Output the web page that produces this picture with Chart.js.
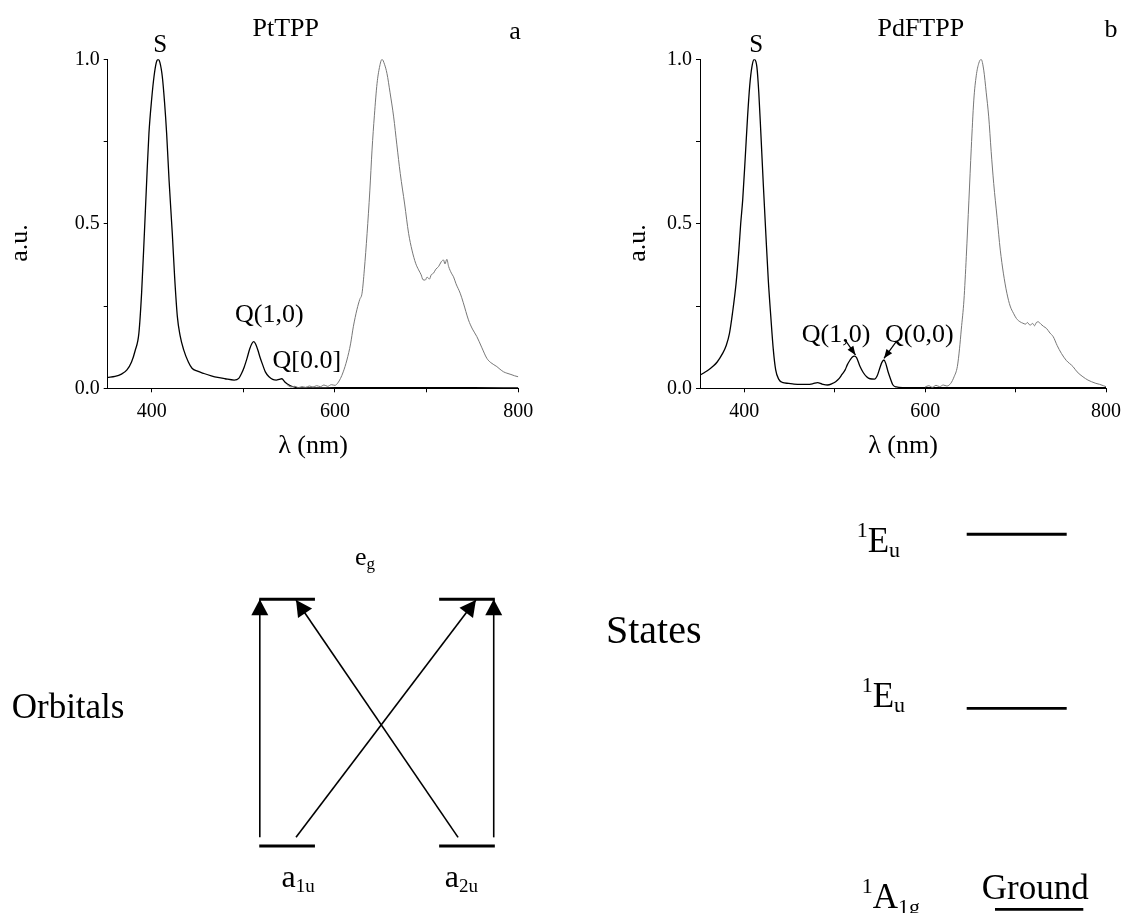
<!DOCTYPE html>
<html>
<head>
<meta charset="utf-8">
<title>PtTPP / PdFTPP spectra and four-orbital scheme</title>
<script src="https://cdn.jsdelivr.net/npm/chart.js@4.4.1/dist/chart.umd.min.js"></script>
<style>
  body { margin: 0; background: #fff; }
  #page { position: relative; width: 1128px; height: 913px; }
  canvas { position: absolute; }
</style>
</head>
<body>
<div id="page">
  <canvas id="ptChart" width="560" height="470" style="left:0;top:0"></canvas>
  <canvas id="pdChart" width="568" height="470" style="left:560px;top:0"></canvas>
  <canvas id="orbChart" width="560" height="443" style="left:0;top:470px"></canvas>
  <canvas id="stateChart" width="568" height="443" style="left:560px;top:470px"></canvas>
</div>
<script>
'use strict';

// ---- spectra data (wavelength in nm, normalised intensity) ----
let ptAbsWave = [352, 360, 367, 373, 378, 382, 386, 389, 392, 395, 397, 400, 402.5, 405, 407, 409, 411.6, 414, 416.3, 419, 422.5, 425, 428, 431, 435, 440, 444, 450, 457, 465, 472, 480, 490, 495, 498, 501, 504, 507, 509.5, 511.5, 513.5, 516, 518, 521, 524, 528, 532, 536, 539, 542, 545, 548, 552, 557, 565, 580, 600, 650, 700, 750, 800];
let ptAbsVal = [0.033, 0.036, 0.043, 0.056, 0.08, 0.115, 0.167, 0.29, 0.47, 0.66, 0.775, 0.88, 0.947, 0.99, 1.0, 0.99, 0.947, 0.87, 0.775, 0.63, 0.47, 0.34, 0.218, 0.16, 0.116, 0.08, 0.061, 0.052, 0.045, 0.038, 0.033, 0.029, 0.025, 0.03, 0.045, 0.065, 0.091, 0.12, 0.137, 0.142, 0.134, 0.115, 0.096, 0.072, 0.05, 0.035, 0.027, 0.025, 0.027, 0.029, 0.02, 0.013, 0.007, 0.003, 0.001, 0.001, 0.002, 0.002, 0.002, 0.002, 0.001];

let ptEmWave = [548, 552, 556, 560, 564, 568, 572, 576, 580, 584, 588, 592, 596, 600, 603, 606, 609, 613, 617, 620, 624, 627, 629.5, 632, 635, 638, 640.4, 643, 645.9, 648.5, 651.3, 654, 656.7, 660, 664, 667.5, 671.2, 676, 680.3, 684, 688, 691.2, 694, 696, 698.5, 700.5, 703, 705, 707.5, 710, 713, 716, 718.4, 720, 722, 724, 727, 729.3, 732, 736.6, 740, 745.6, 750, 754.8, 760, 765.7, 770, 776.6, 780, 784, 787.5, 792, 796, 800];
let ptEmVal = [0.01, 0.004, 0.006, 0.002, 0.005, 0.003, 0.007, 0.004, 0.008, 0.005, 0.01, 0.006, 0.011, 0.009, 0.016, 0.03, 0.05, 0.086, 0.135, 0.187, 0.24, 0.27, 0.289, 0.36, 0.47, 0.6, 0.724, 0.83, 0.927, 0.975, 1.0, 0.985, 0.957, 0.9, 0.825, 0.74, 0.653, 0.56, 0.471, 0.42, 0.38, 0.36, 0.345, 0.33, 0.329, 0.338, 0.332, 0.345, 0.35, 0.362, 0.37, 0.385, 0.39, 0.378, 0.392, 0.37, 0.35, 0.339, 0.318, 0.289, 0.26, 0.208, 0.18, 0.157, 0.125, 0.091, 0.078, 0.066, 0.058, 0.05, 0.046, 0.042, 0.038, 0.035];

let pdAbsWave = [351, 356, 361, 365, 370, 376, 380, 383.6, 387, 390.9, 394, 396, 398.2, 401, 403.6, 406, 408.4, 411, 413.9, 416, 418.3, 421, 423.8, 426.5, 429.3, 432, 434.7, 438, 442, 449, 455, 462, 470, 476, 481, 486, 492, 497, 501, 505, 508, 511.5, 514, 517, 519.5, 521.6, 524, 528, 531.5, 535.3, 539, 544, 547, 549.8, 552, 554.5, 556.5, 558.9, 561.5, 564.4, 568, 575, 600, 650, 700, 750, 800];
let pdAbsVal = [0.04, 0.048, 0.057, 0.066, 0.08, 0.106, 0.13, 0.167, 0.23, 0.319, 0.42, 0.5, 0.572, 0.7, 0.825, 0.92, 0.977, 1.0, 0.977, 0.9, 0.775, 0.62, 0.47, 0.33, 0.218, 0.12, 0.056, 0.028, 0.018, 0.015, 0.013, 0.012, 0.012, 0.014, 0.017, 0.013, 0.01, 0.014, 0.02, 0.03, 0.042, 0.056, 0.072, 0.086, 0.095, 0.098, 0.094, 0.066, 0.048, 0.035, 0.029, 0.028, 0.038, 0.061, 0.078, 0.086, 0.075, 0.051, 0.03, 0.01, 0.004, 0.002, 0.002, 0.002, 0.002, 0.002, 0.002];

let pdEmWave = [600, 604, 608, 612, 616, 620, 624, 628.3, 632, 635.6, 638, 640, 642.9, 645.5, 648.4, 651, 653.8, 656.5, 659.3, 661.9, 664.8, 667.5, 670.3, 673, 675.8, 679.5, 683.1, 686.5, 690.4, 694, 697.7, 701, 705, 708, 711, 713, 716, 719, 721, 723, 725.1, 728, 731, 734.2, 738, 741.6, 746, 750.7, 756, 763.5, 768, 774.5, 780, 784, 788.8, 793, 797, 800];
let pdEmVal = [0.004, 0.008, 0.003, 0.009, 0.005, 0.01, 0.007, 0.015, 0.035, 0.066, 0.12, 0.18, 0.268, 0.4, 0.572, 0.73, 0.876, 0.95, 0.988, 1.0, 0.967, 0.9, 0.825, 0.72, 0.623, 0.52, 0.42, 0.35, 0.289, 0.25, 0.228, 0.212, 0.202, 0.198, 0.195, 0.2, 0.192, 0.197, 0.19, 0.2, 0.202, 0.195, 0.188, 0.182, 0.168, 0.157, 0.13, 0.106, 0.085, 0.066, 0.05, 0.035, 0.025, 0.02, 0.015, 0.012, 0.008, 0.005];

// axis ticks
let xTicks = [400, 500, 600, 700, 800];
let xLabelTicks = [400, 600, 800];
let yTicks = [0, 0.25, 0.5, 0.75, 1.0];
let yLabelTicks = [0, 0.5, 1.0];

// band labels
let ptBandNames = ['S', 'Q(1,0)', 'Q[0.0]'];
let pdBandNames = ['S', 'Q(1,0)', 'Q(0,0)'];

// pointer arrows in the PdFTPP panel: [from nm, from a.u., to nm, to a.u.]
let pdPointers = [[511.5, 0.147, 523, 0.101], [568, 0.142, 554.5, 0.091]];

// ---- four-orbital scheme (x in level widths, y in orbital energy) ----
let orbitalSpanX = [[0, 1], [3.23, 4.23], [0, 1], [3.23, 4.23]];
let orbitalEnergy = [0, 0, 1, 1];
let transitionFrom = [[0.01, 0.035], [0.66, 0.035], [3.57, 0.035], [4.21, 0.035]];
let transitionTo = [[0.01, 1.0], [3.89, 0.997], [0.66, 0.997], [4.21, 1.0]];

// states (x in level widths, y in relative energy)
let stateSpanX = [[0.283, 1.166], [0, 1], [0, 1]];
let stateEnergy = [0, 1.0, 1.866];

const SERIF = "'Liberation Serif', 'Times New Roman', serif";
Chart.defaults.font.family = SERIF;
Chart.defaults.color = '#000';

function toPoints(xs, ys) {
  return xs.map((x, i) => ({ x: x, y: ys[i] }));
}

// draws text made of normal, superscript and subscript pieces
function drawRich(ctx, parts, x, y, size, smallSize, align) {
  let widths = parts.map(p => {
    ctx.font = `${p.sub || p.sup ? smallSize : size}px ${SERIF}`;
    return ctx.measureText(p.t).width;
  });
  let total = widths.reduce((a, b) => a + b, 0);
  let cx = align === 'center' ? x - total / 2 : x;
  ctx.textAlign = 'left';
  parts.forEach((p, i) => {
    ctx.font = `${p.sub || p.sup ? smallSize : size}px ${SERIF}`;
    let dy = p.sup ? -size * 0.43 : (p.sub ? size * 0.15 : 0);
    ctx.fillText(p.t, cx, y + dy);
    cx += widths[i];
  });
}

// text labels, placed either in data units or in canvas pixels
const textLabels = {
  id: 'textLabels',
  afterDraw(chart, args, opts) {
    let ctx = chart.ctx;
    let xs = chart.scales.x;
    let ys = chart.scales.y;
    ctx.save();
    ctx.fillStyle = '#000';
    ctx.textBaseline = 'alphabetic';
    (opts.items || []).forEach(item => {
      let px = item.px !== undefined ? item.px : xs.getPixelForValue(item.x);
      let py = item.py !== undefined ? item.py : ys.getPixelForValue(item.y);
      if (item.rotate) {
        ctx.save();
        ctx.translate(px, py);
        ctx.rotate(-Math.PI / 2);
        ctx.font = `${item.size}px ${SERIF}`;
        ctx.textAlign = 'center';
        ctx.textBaseline = 'middle';
        ctx.fillText(item.text, 0, 0);
        ctx.restore();
      } else if (item.parts) {
        drawRich(ctx, item.parts, px, py, item.size, item.small, item.align || 'left');
      } else {
        ctx.font = `${item.size}px ${SERIF}`;
        ctx.textAlign = item.align || 'center';
        ctx.fillText(item.text, px, py);
      }
    });
    ctx.restore();
  }
};

// filled arrow heads at the last point of datasets flagged with arrowHead
const arrowHeads = {
  id: 'arrowHeads',
  afterDatasetsDraw(chart) {
    let ctx = chart.ctx;
    chart.data.datasets.forEach((ds, i) => {
      if (!ds.arrowHead) return;
      let pts = chart.getDatasetMeta(i).data;
      let tip = pts[pts.length - 1];
      let tail = pts[pts.length - 2];
      let ang = Math.atan2(tip.y - tail.y, tip.x - tail.x);
      let len = ds.arrowHead[0];
      let half = ds.arrowHead[1];
      ctx.save();
      ctx.translate(tip.x, tip.y);
      ctx.rotate(ang);
      ctx.beginPath();
      ctx.moveTo(0, 0);
      ctx.lineTo(-len, -half);
      ctx.lineTo(-len, half);
      ctx.closePath();
      ctx.fillStyle = ds.borderColor;
      ctx.fill();
      ctx.restore();
    });
  }
};

function spectrumChart(canvasId, cfg) {
  let datasets = [
    {
      data: toPoints(cfg.emWave, cfg.emVal),
      borderColor: '#777',
      borderWidth: 1,
      pointRadius: 0,
      cubicInterpolationMode: 'monotone'
    },
    {
      data: toPoints(cfg.absWave, cfg.absVal),
      borderColor: '#000',
      borderWidth: 1.3,
      pointRadius: 0,
      cubicInterpolationMode: 'monotone'
    }
  ];
  (cfg.pointers || []).forEach(p => {
    datasets.push({
      data: [{ x: p[0], y: p[1] }, { x: p[2], y: p[3] }],
      borderColor: '#000',
      borderWidth: 1.2,
      pointRadius: 0,
      arrowHead: [9, 3.5]
    });
  });

  let ctx = document.getElementById(canvasId).getContext('2d');
  return new Chart(ctx, { //eslint-disable-line
    type: 'line',
    data: { datasets: datasets },
    plugins: [arrowHeads, textLabels],
    options: {
      responsive: false,
      animation: false,
      devicePixelRatio: 1,
      events: [],
      layout: { padding: cfg.padding },
      plugins: {
        legend: { display: false },
        tooltip: { enabled: false },
        textLabels: { items: cfg.labels }
      },
      scales: {
        x: {
          type: 'linear',
          min: cfg.xMin,
          max: 800,
          afterBuildTicks: scale => { scale.ticks = xTicks.map(v => ({ value: v })); },
          afterFit: scale => { scale.height = 75; },
          ticks: {
            autoSkip: false,
            maxRotation: 0,
            padding: 7,
            font: { size: 20 },
            color: '#000',
            callback: v => (xLabelTicks.includes(v) ? String(v) : '')
          },
          grid: { display: true, drawOnChartArea: false, drawTicks: true, tickLength: 4, tickColor: '#000' },
          border: { display: true, color: '#000', width: 1 },
          title: {
            display: true,
            text: 'λ (nm)',
            color: '#000',
            font: { size: 26 },
            padding: { top: 0, bottom: 2 }
          }
        },
        y: {
          min: 0,
          max: 1,
          afterBuildTicks: scale => { scale.ticks = yTicks.map(v => ({ value: v })); },
          afterFit: scale => { scale.width = cfg.yWidth; },
          ticks: {
            autoSkip: false,
            padding: 4,
            font: { size: 20 },
            color: '#000',
            callback: v => (yLabelTicks.includes(v) ? v.toFixed(1) : '')
          },
          grid: { display: true, drawOnChartArea: false, drawTicks: true, tickLength: 4, tickColor: '#000' },
          border: { display: true, color: '#000', width: 1 }
        }
      }
    }
  });
}

spectrumChart('ptChart', {
  absWave: ptAbsWave, absVal: ptAbsVal,
  emWave: ptEmWave, emVal: ptEmVal,
  xMin: 352,
  yWidth: 107.7,
  padding: { left: 0, top: 59.3, right: 41.7, bottom: 6.7 },
  labels: [
    { text: 'PtTPP', px: 285.7, py: 36, size: 26 },
    { text: 'a', px: 515, py: 39, size: 26 },
    { text: 'a.u.', px: 20, py: 243, size: 26, rotate: true },
    { text: ptBandNames[0], x: 409.3, y: 1.023, size: 25 },
    { text: ptBandNames[1], x: 528.3, y: 0.202, size: 26 },
    { text: ptBandNames[2], x: 569.2, y: 0.061, size: 26 }
  ]
});

spectrumChart('pdChart', {
  absWave: pdAbsWave, absVal: pdAbsVal,
  emWave: pdEmWave, emVal: pdEmVal,
  pointers: pdPointers,
  xMin: 351,
  yWidth: 140,
  padding: { left: 0, top: 59.3, right: 18, bottom: 6.7 },
  labels: [
    { text: 'PdFTPP', px: 360.8, py: 36, size: 26 },
    { text: 'b', px: 551, py: 36.7, size: 26 },
    { text: 'a.u.', px: 78.5, py: 243, size: 26, rotate: true },
    { text: pdBandNames[0], x: 413.2, y: 1.023, size: 25 },
    { text: pdBandNames[1], x: 501.4, y: 0.142, size: 26 },
    { text: pdBandNames[2], x: 593.6, y: 0.142, size: 26 }
  ]
});

function schemeChart(canvasId, datasets, bounds, labels) {
  let ctx = document.getElementById(canvasId).getContext('2d');
  return new Chart(ctx, { //eslint-disable-line
    type: 'scatter',
    data: { datasets: datasets },
    plugins: [arrowHeads, textLabels],
    options: {
      responsive: false,
      animation: false,
      devicePixelRatio: 1,
      events: [],
      layout: { padding: 0 },
      plugins: {
        legend: { display: false },
        tooltip: { enabled: false },
        textLabels: { items: labels }
      },
      scales: {
        x: { type: 'linear', display: false, min: bounds[0], max: bounds[1] },
        y: { type: 'linear', display: false, min: bounds[2], max: bounds[3] }
      }
    }
  });
}

function levelSet(spans, energies, width) {
  return spans.map((s, i) => ({
    data: [{ x: s[0], y: energies[i] }, { x: s[1], y: energies[i] }],
    showLine: true,
    borderColor: '#000',
    borderWidth: width,
    pointRadius: 0
  }));
}

// orbitals with the four transitions
let orbitalSets = levelSet(orbitalSpanX, orbitalEnergy, 3);
transitionFrom.forEach((f, i) => {
  orbitalSets.push({
    data: [{ x: f[0], y: f[1] }, { x: transitionTo[i][0], y: transitionTo[i][1] }],
    showLine: true,
    borderColor: '#000',
    borderWidth: 1.6,
    pointRadius: 0,
    arrowHead: [16, 8.5]
  });
});

schemeChart('orbChart', orbitalSets, [-4.655, 5.40, -0.2716, 1.524], [
  { text: 'Orbitals', x: -4.445, y: 0.518, size: 35, align: 'left' },
  { parts: [{ t: 'e' }, { t: 'g', sub: true }], x: 1.72, y: 1.139, size: 26, small: 17 },
  { parts: [{ t: 'a' }, { t: '1u', sub: true }], x: 0.40, y: -0.165, size: 32, small: 19 },
  { parts: [{ t: 'a' }, { t: '2u', sub: true }], x: 3.33, y: -0.165, size: 32, small: 19 }
]);

// singlet states
schemeChart('stateChart', levelSet(stateSpanX, stateEnergy, 2.8), [-4.067, 1.613, -0.0184, 2.1856], [
  { text: 'States', x: -3.607, y: 1.323, size: 40, align: 'left' },
  { parts: [{ t: '1', sup: true }, { t: 'E' }, { t: 'u', sub: true }], x: -1.1, y: 1.779, size: 35, small: 22 },
  { parts: [{ t: '1', sup: true }, { t: 'E' }, { t: 'u', sub: true }], x: -1.05, y: 1.008, size: 35, small: 22 },
  { parts: [{ t: '1', sup: true }, { t: 'A' }, { t: '1g', sub: true }], x: -1.05, y: 0.005, size: 35, small: 22 },
  { text: 'Ground', x: 0.15, y: 0.05, size: 35, align: 'left' }
]);
</script>
</body>
</html>
